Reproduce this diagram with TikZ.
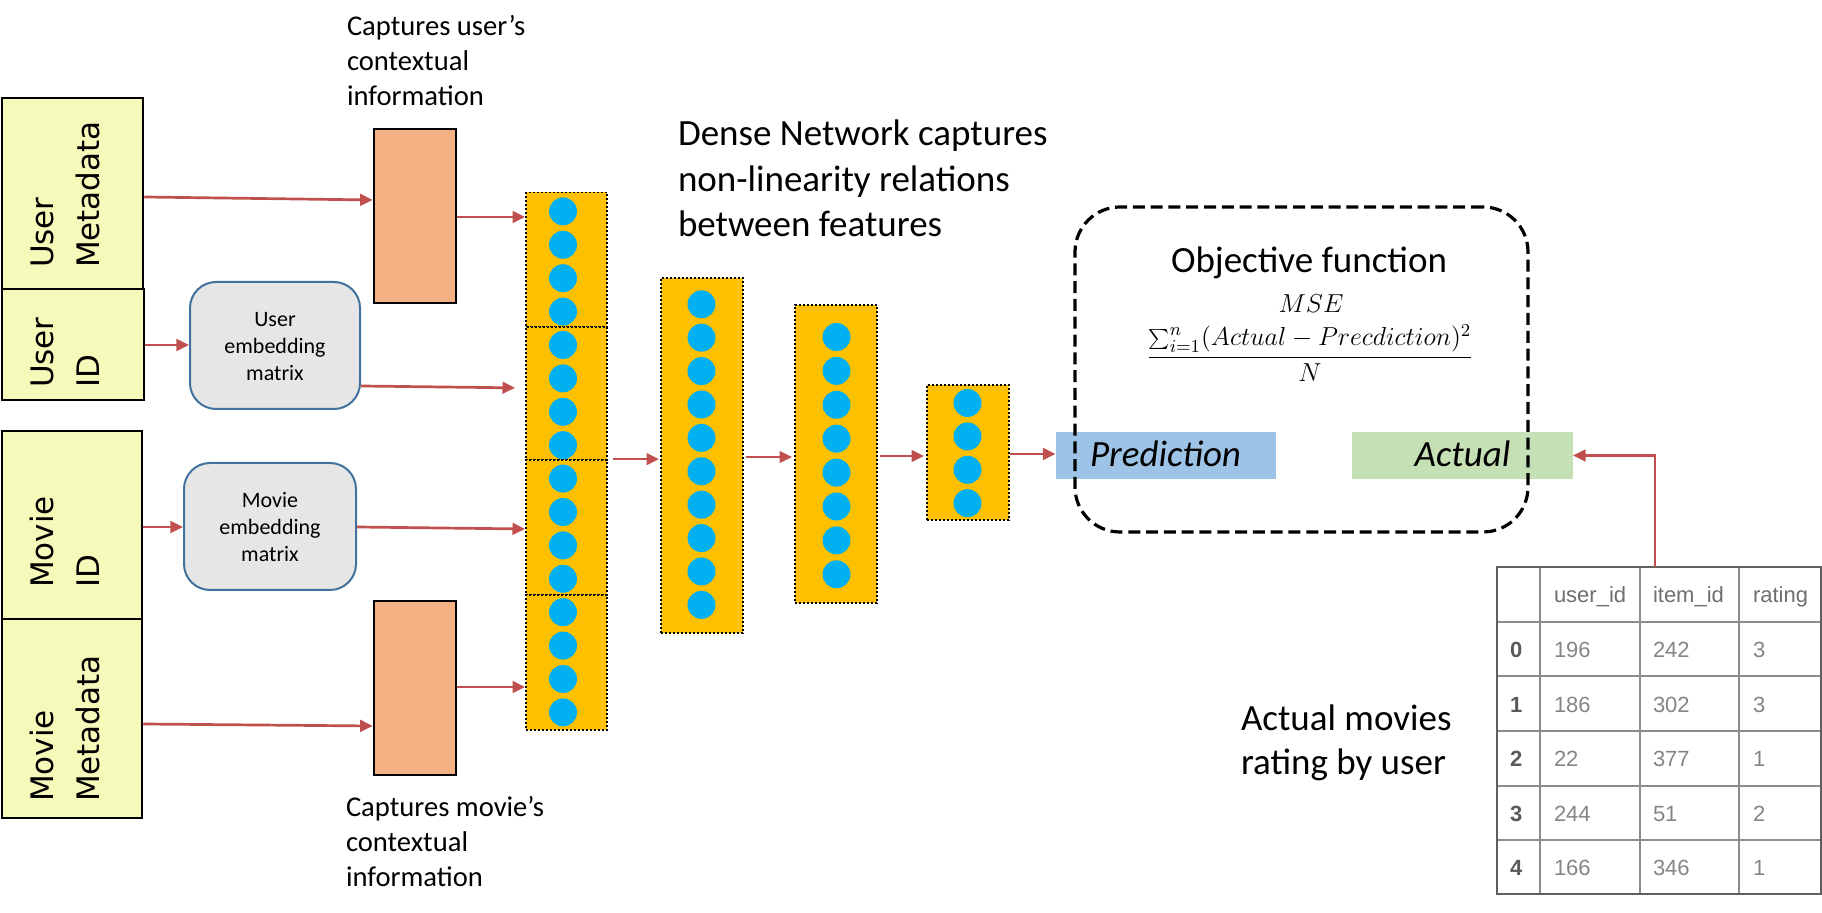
\RequirePackage{fix-cm}
\documentclass[tikz,border=0pt]{standalone}
\usepackage{fontspec}
\setmainfont{Carlito}
\newfontfamily\rotfamily{DejaVu Sans}
\newfontfamily\tabfamily{Liberation Sans}
\usetikzlibrary{arrows.meta,fit}
\definecolor{cYel}{HTML}{F5F9B9}
\definecolor{cOra}{HTML}{F4B183}
\definecolor{cStk}{HTML}{FFC000}
\definecolor{cCir}{HTML}{00B0F0}
\definecolor{cEmb}{HTML}{E7E6E6}
\definecolor{cEmbB}{HTML}{41719C}
\definecolor{cPred}{HTML}{9DC3E6}
\definecolor{cAct}{HTML}{C5E0B4}
\definecolor{cRed}{HTML}{C0504D}
\definecolor{cTabL}{HTML}{8C8C8C}
\definecolor{cTabO}{HTML}{5F5F5F}
\definecolor{cNum}{HTML}{858585}
\definecolor{cHdr}{HTML}{6E6E6E}
\definecolor{cIdx}{HTML}{5A5A5A}
\newcommand\fbig{\fontsize{18.5}{22.75}\selectfont}
\newcommand\fact{\fontsize{18.5}{22}\selectfont}
\newcommand\fcap{\fontsize{14.3}{17.5}\selectfont}
\newcommand\femb{\fontsize{11}{13.5}\selectfont}
\newcommand\frot{\rotfamily\fontsize{15.5}{23.25}\selectfont}
\newcommand\fmath{\fontsize{13}{15.6}\selectfont}
\newcommand\ftab{\tabfamily\fontsize{11}{13}\selectfont}
\newcommand\txtlines[1]{\begin{tabular}[t]{@{}l@{}}#1\end{tabular}}
\newcommand\ctrlines[1]{\begin{tabular}{@{}c@{}}#1\end{tabular}}
\begin{document}
\begin{tikzpicture}[x=0.5pt,y=-0.5pt,
  inbox/.style={draw=black, line width=1.25pt, fill=cYel, inner sep=0pt},
  orbox/.style={draw=black, line width=1.25pt, fill=cOra, inner sep=0pt},
  embbox/.style={draw=cEmbB, line width=1pt, fill=cEmb, rounded corners=13pt, inner sep=0pt},
  stk/.style={draw=black, line width=0.9pt, dash pattern=on 1pt off 1pt, fill=cStk, inner sep=0pt},
  arr/.style={draw=cRed, line width=1.35pt, -{Triangle[length=6.3pt,width=5.8pt]}},
  objbox/.style={draw=black, line width=1.6pt, dash pattern=on 6pt off 2.9pt, rounded corners=22.5pt, inner sep=0pt},
  tabl/.style={draw=cTabL, line width=0.75pt},
  plain/.style={inner sep=0pt, outer sep=0pt},
  rot/.style={plain, rotate=90, anchor=base west, font=\frot},
  numtxt/.style={plain, anchor=base west, font=\ftab, text=cNum},
  hdrtxt/.style={plain, anchor=base west, font=\ftab, text=cHdr},
  idxtxt/.style={plain, anchor=base west, font=\ftab\bfseries, text=cIdx}
]
\useasboundingbox (0,0) rectangle (1822,913);

% input boxes
\node[inbox, fit={(2,98) (143,289)}] (um) {};
\node[inbox, fit={(2,289) (144,400)}] (uid) {};
\node[inbox, fit={(2,431) (142,619)}] (mid) {};
\node[inbox, fit={(2,619) (142,818)}] (mm) {};
\node[rot] (tum) at (53.5,268) {\txtlines{User\\Metadata}};
\node[rot] (tuid) at (53.5,388) {\txtlines{User\\ID}};
\node[rot] (tmid) at (53.5,588) {\txtlines{Movie\\ID}};
\node[rot] (tmm) at (53.5,802) {\txtlines{Movie\\Metadata}};

% orange boxes
\node[orbox, fit={(374,129) (456,303)}] (uo) {};
\node[orbox, fit={(374,601) (456,775)}] (mo) {};
\node[plain, anchor=base west, font=\fcap] (tcu) at (347,36) {\txtlines{Captures user’s\\contextual\\information}};
\node[plain, anchor=base west, font=\fcap] (tcm) at (346,817) {\txtlines{Captures movie’s\\contextual\\information}};

% embedding boxes
\node[embbox, fit={(190,282) (360,409)}] (ue) {};
\node[embbox, fit={(184,463) (356,590)}] (me) {};
\node[plain, font=\femb, yshift=-1.5pt] (tue) at (ue.center) {\ctrlines{User\\embedding\\matrix}};
\node[plain, font=\femb, yshift=-1.5pt] (tme) at (me.center) {\ctrlines{Movie\\embedding\\matrix}};

% dense network columns
\node[stk, fit={(526,192.5) (607,327)}] (s1) {};
\node[stk, fit={(526,327) (607,460)}] (s2) {};
\node[stk, fit={(526,460) (607,595)}] (s3) {};
\node[stk, fit={(526,595) (607,730)}] (s4) {};
\node[stk, fit={(661,278) (743,633)}] (c2) {};
\node[stk, fit={(795,305) (877,603)}] (c3) {};
\node[stk, fit={(927,385) (1009,520)}] (c4) {};
\foreach \k in {0,...,15}{\fill[cCir] (563,{211.4+\k*33.4}) circle[radius=7pt];}
\foreach \k in {0,...,9}{\fill[cCir] (701.5,{304.3+\k*33.4}) circle[radius=7pt];}
\foreach \k in {0,...,7}{\fill[cCir] (836.5,{337+\k*33.9}) circle[radius=7pt];}
\foreach \k in {0,...,3}{\fill[cCir] (967.5,{403+\k*33.4}) circle[radius=7pt];}

\node[plain, anchor=base west, font=\fbig] (tdense) at (678,146) {\txtlines{Dense Network captures\\non-linearity relations\\between features}};

% prediction / actual
\node[plain, fill=cPred, fit={(1055.5,432) (1275.5,479)}] (pred) {};
\node[plain, fill=cAct, fit={(1352,432) (1573,479)}] (act) {};
\node[plain, anchor=base, font=\fbig\itshape] (tpred) at (1165.5,467) {Prediction};
\node[plain, anchor=base, font=\fbig\itshape] (tact) at (1462.5,467) {Actual};

% objective box
\node[objbox, fit={(1075,207) (1528,532)}] (obj) {};
\node[plain, anchor=base, font=\fbig] (tobj) at (1309,273) {Objective function};
\node[plain, anchor=base, font=\fmath] (tmse) at (1311,313) {$MSE$};
\node[plain, anchor=base, font=\fmath] (tfrac) at (1310,363.5) {$\displaystyle\frac{\sum_{i=1}^{n}(Actual-Precdiction)^2}{N}$};

% table
\node[plain, draw=cTabO, line width=1pt, fit={(1497,567) (1821,894)}] (tbl) {};
\foreach \xx in {1540,1640,1739}{\draw[tabl] (\xx,567) -- (\xx,894);}
\foreach \yy in {622,676,731,786,840}{\draw[tabl] (1497,\yy) -- (1821,\yy);}
\draw[draw=cTabO, line width=1pt] (tbl.north west) rectangle (tbl.south east);
\node[hdrtxt] (h1) at (1554,603) {user\_id};
\node[hdrtxt] (h2) at (1653,603) {item\_id};
\node[hdrtxt] (h3) at (1753,603) {rating};
\foreach \i/\a/\b/\c in {0/196/242/3,1/186/302/3,2/22/377/1,3/244/51/2,4/166/346/1}{
  \node[idxtxt] (ti\i) at (1510,{658+\i*54.5}) {\i};
  \node[numtxt] (ta\i) at (1554,{658+\i*54.5}) {\a};
  \node[numtxt] (tb\i) at (1653,{658+\i*54.5}) {\b};
  \node[numtxt] (tc\i) at (1753,{658+\i*54.5}) {\c};
}
\node[plain, anchor=base west, font=\fact] (tactual) at (1241,731) {\txtlines{Actual movies\\rating by user}};

% connectors
\draw[arr] (um.east |- 0,197) -- (uo.west |- 0,200);
\draw[arr] (uo.east |- 0,217) -- (s1.west |- 0,217);
\draw[arr] (uid.east |- 0,345) -- (ue.west |- 0,345);
\draw[arr, shorten >=5pt] (ue.east |- 0,386) -- (s2.west |- 0,388);
\draw[arr] (mid.east |- 0,527) -- (me.west |- 0,527);
\draw[arr] (me.east |- 0,527) -- (s3.west |- 0,529);
\draw[arr] (mm.east |- 0,724) -- (mo.west |- 0,726);
\draw[arr] (mo.east |- 0,687) -- (s4.west |- 0,687);
\draw[arr, shorten <=2.5pt, shorten >=0.5pt] (s3.north east) -- (c2.west |- s3.north east);
\draw[arr, shorten <=1pt, shorten >=1pt] (c2.east |- 0,457) -- (c3.west |- 0,457);
\draw[arr, shorten <=1pt, shorten >=1pt] (c3.east |- 0,456) -- (c4.west |- 0,456);
\draw[arr] (c4.east |- 0,454) -- (pred.west |- 0,454);
\draw[arr] ([xshift=79pt]tbl.north west) |- (act.east);
\end{tikzpicture}
\end{document}
